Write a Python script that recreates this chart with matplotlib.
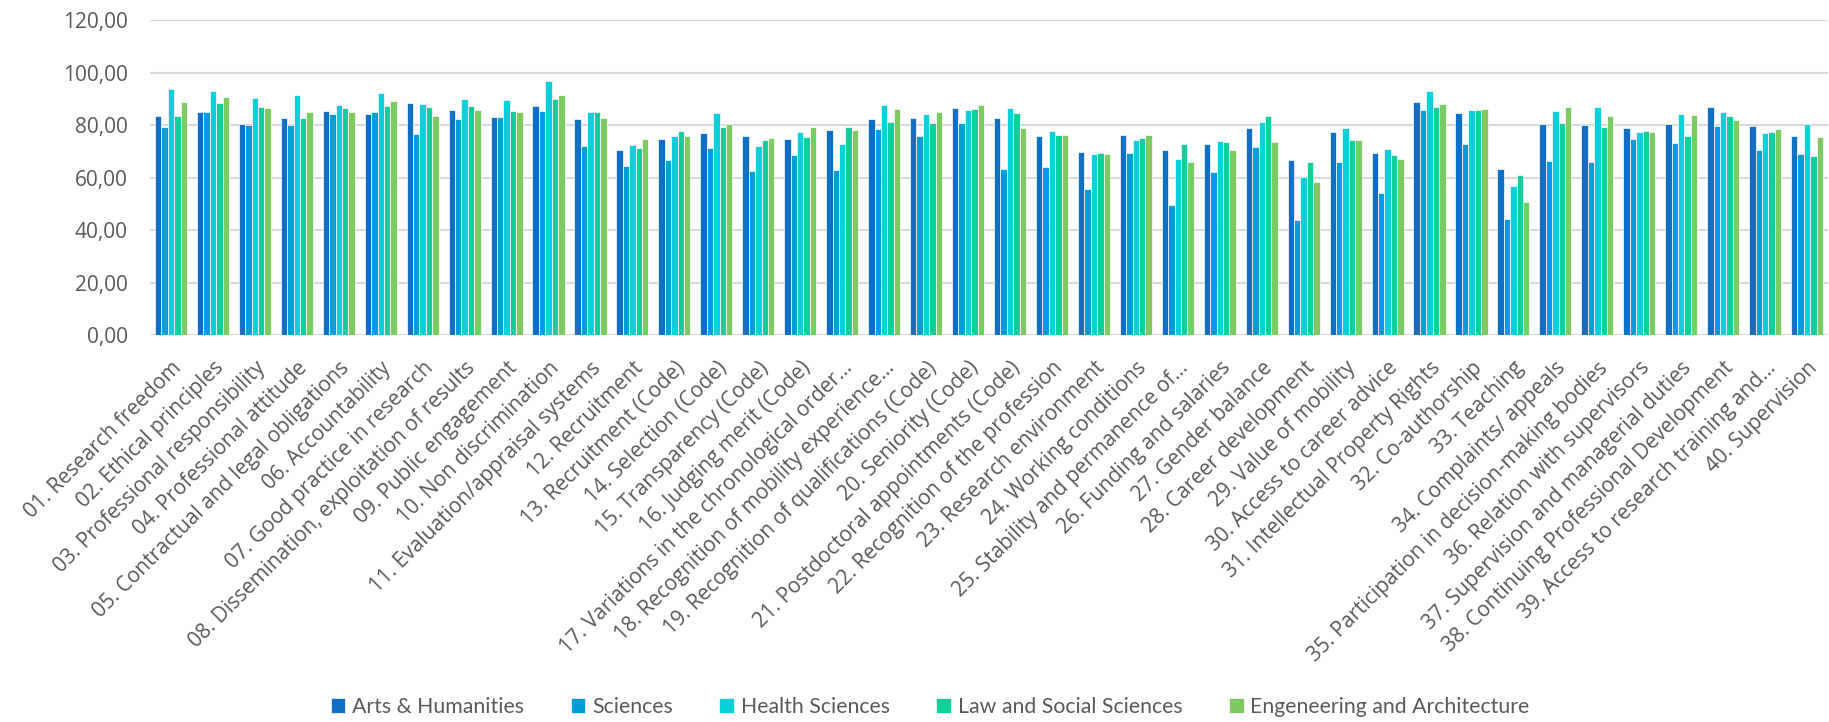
import numpy as np
import matplotlib
matplotlib.use("Agg")
import matplotlib.pyplot as plt
from matplotlib.ticker import FuncFormatter

categories = [
    "01. Research freedom",
    "02. Ethical principles",
    "03. Professional responsibility",
    "04. Professional attitude",
    "05. Contractual and legal obligations",
    "06. Accountability",
    "07. Good practice in research",
    "08. Dissemination, exploitation of results",
    "09. Public engagement",
    "10. Non discrimination",
    "11. Evaluation/appraisal systems",
    "12. Recruitment",
    "13. Recruitment (Code)",
    "14. Selection (Code)",
    "15. Transparency (Code)",
    "16. Judging merit (Code)",
    "17. Variations in the chronological order...",
    "18. Recognition of mobility experience...",
    "19. Recognition of qualifications (Code)",
    "20. Seniority (Code)",
    "21. Postdoctoral appointments (Code)",
    "22. Recognition of the profession",
    "23. Research environment",
    "24. Working conditions",
    "25. Stability and permanence of...",
    "26. Funding and salaries",
    "27. Gender balance",
    "28. Career development",
    "29. Value of mobility",
    "30. Access to career advice",
    "31. Intellectual Property Rights",
    "32. Co-authorship",
    "33. Teaching",
    "34. Complaints/ appeals",
    "35. Participation in decision-making bodies",
    "36. Relation with supervisors",
    "37. Supervision and managerial duties",
    "38. Continuing Professional Development",
    "39. Access to research training and...",
    "40. Supervision",
]

arts = [83.5, 84.9, 80.4, 82.7, 85.4, 84.2, 88.3, 85.8, 83.1, 87.2,
        82.2, 70.6, 74.6, 76.9, 76.0, 74.7, 78.0, 82.2, 82.6, 86.5,
        82.8, 75.9, 69.6, 76.4, 70.6, 72.9, 78.9, 66.7, 77.4, 69.2,
        88.9, 84.5, 63.3, 80.3, 80.1, 78.8, 80.4, 86.8, 79.7, 75.9]
sciences = [79.4, 85.1, 80.1, 79.9, 84.2, 85.1, 76.6, 82.3, 83.0, 85.3,
            72.2, 64.3, 66.6, 71.4, 62.6, 68.5, 63.0, 78.5, 75.9, 80.8,
            63.3, 64.2, 55.7, 69.4, 49.7, 62.3, 71.7, 43.7, 65.8, 54.1,
            85.6, 72.9, 44.1, 66.5, 65.8, 74.6, 73.2, 79.5, 70.4, 68.9]
health = [93.9, 93.0, 90.2, 91.4, 87.8, 92.1, 87.9, 89.8, 89.5, 96.7,
          84.8, 72.3, 75.9, 84.5, 72.2, 77.5, 72.7, 87.8, 84.2, 85.8,
          86.4, 77.9, 68.9, 74.3, 67.0, 74.0, 81.1, 60.4, 79.0, 70.8,
          92.9, 85.6, 56.9, 85.3, 87.0, 77.5, 84.1, 85.0, 76.9, 80.4]
law = [83.5, 88.3, 86.8, 82.7, 86.5, 87.4, 86.7, 87.2, 85.4, 90.0,
       84.8, 71.3, 77.6, 79.3, 74.3, 75.5, 79.3, 81.1, 80.9, 86.0,
       84.6, 76.1, 69.3, 75.1, 72.8, 73.4, 83.5, 65.8, 74.5, 68.5,
       86.7, 85.6, 61.0, 80.7, 79.4, 77.6, 76.0, 83.5, 77.5, 68.4]
engineering = [88.7, 90.7, 86.5, 84.9, 85.1, 89.2, 83.4, 85.8, 85.1, 91.6,
               82.6, 74.6, 76.0, 80.6, 75.2, 79.3, 78.3, 86.1, 85.1, 87.7,
               79.0, 76.1, 69.1, 76.2, 65.9, 70.5, 73.6, 58.3, 74.5, 67.2,
               88.2, 86.1, 50.8, 86.8, 83.5, 77.3, 83.7, 82.0, 78.5, 75.5]

series_names = ["Arts & Humanities", "Sciences", "Health Sciences",
                "Law and Social Sciences", "Engeneering and Architecture"]
colors = ["#0F6FC6", "#009DD9", "#0BD0D9", "#10CF9B", "#7CCA62"]

fig = plt.figure(figsize=(18.29, 7.22), dpi=100)
ax = fig.add_axes([0.082, 0.5356, 0.9175, 0.4367])

x = np.arange(len(categories))
w = 0.153
for i, (vals, name, c) in enumerate(zip([arts, sciences, health, law, engineering],
                                         series_names, colors)):
    ax.bar(x + (i - 2) * w, vals, width=w, color=c, edgecolor="white",
           linewidth=0.5, label=name, zorder=3)

ax.set_xlim(-0.5, len(categories) - 0.5)
ax.set_ylim(0, 120)
ax.set_yticks(np.arange(0, 121, 20))
ax.yaxis.set_major_formatter(FuncFormatter(lambda v, p: f"{v:.2f}".replace(".", ",")))
ax.grid(axis="y", color="#D9D9D9", linewidth=1.5, zorder=0)
for s in ax.spines.values():
    s.set_visible(False)

ax.set_xticks(x)
ax.set_xticklabels(categories, rotation=45, ha="right", rotation_mode="anchor",
                   fontsize=15, family="Open Sans", color="#595959")
ax.tick_params(axis="x", length=0, pad=16)
ax.tick_params(axis="y", length=0, pad=16, labelsize=15, labelcolor="#595959")
for t in ax.get_yticklabels():
    t.set_family("Open Sans")

fig.legend(loc="center", bbox_to_anchor=(0.5085, 0.021), ncol=5, frameon=False,
           prop={"family": "Lato", "size": 15.3}, labelcolor="#595959",
           handlelength=0.7, handleheight=0.7, handletextpad=0.3,
           columnspacing=2.2)

fig.savefig("out.png", dpi=100)
